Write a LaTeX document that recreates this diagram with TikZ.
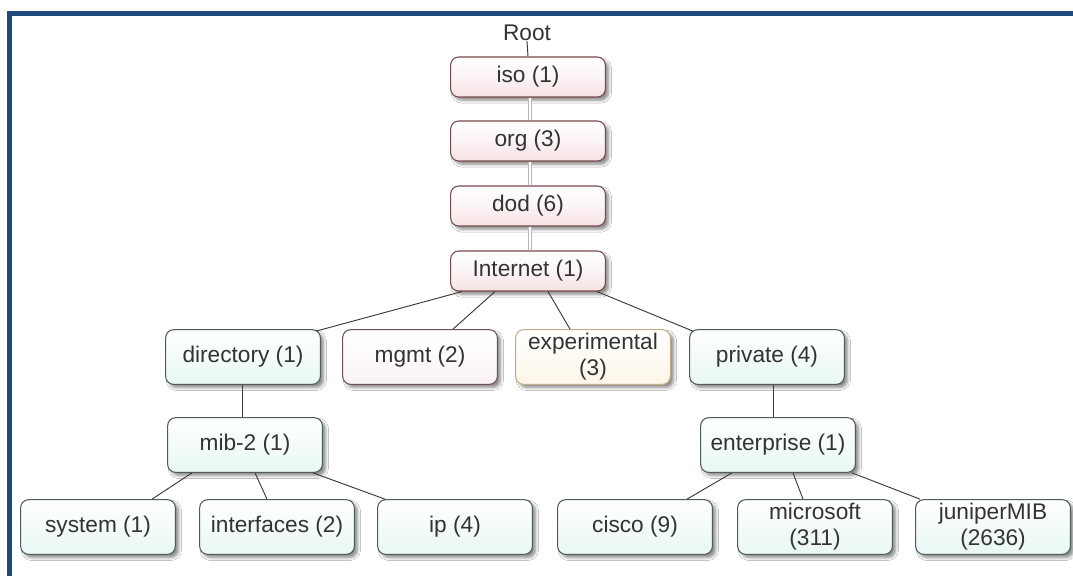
\documentclass[tikz,border=0pt]{standalone}
\usepackage{fontspec}
\setmainfont{Liberation Sans}
\usetikzlibrary{calc,shadows.blur}

\definecolor{frameblue}{HTML}{1F4A7E}
\definecolor{textgray}{HTML}{333333}
\definecolor{linegray}{HTML}{3A3A3A}
\definecolor{chainedge}{HTML}{7A4B4E}
\definecolor{chainfill}{HTML}{F6E2E4}
\definecolor{tealedge}{HTML}{4F5C5C}
\definecolor{tealfill}{HTML}{E8F7F5}
\definecolor{mgmtedge}{HTML}{6E5456}
\definecolor{mgmtfill}{HTML}{FBF3F3}
\definecolor{expedge}{HTML}{C4AE8A}
\definecolor{expfill}{HTML}{FDF6E8}

\newcommand{\boxfont}{\fontsize{17}{19.5}\selectfont}

\tikzset{
  mibbox/.style={rounded corners=6pt, minimum width=116pt, inner sep=0pt,
    align=center, text=textgray, font=\boxfont, line width=0.8pt,
    blur shadow={shadow xshift=2.5pt, shadow yshift=-2.5pt,
      shadow blur steps=5, shadow opacity=45}},
  chainbox/.style={mibbox, minimum height=30pt, draw=chainedge,
    top color=white, bottom color=chainfill, middle color=white!60!chainfill},
  tealbox/.style={mibbox, minimum height=41pt, draw=tealedge,
    top color=white, bottom color=tealfill},
  mgmtbox/.style={mibbox, minimum height=41pt, draw=mgmtedge,
    top color=white, bottom color=mgmtfill},
  expbox/.style={mibbox, minimum height=41pt, draw=expedge,
    top color=white, bottom color=expfill},
  branch/.style={draw=linegray, line width=0.7pt},
  chainlink/.style={draw=gray!55, double=white, double distance=2.2pt, line width=0.5pt}
}

\begin{document}
\begin{tikzpicture}[x=0.75pt,y=-0.75pt]
  \useasboundingbox (0,0) rectangle (1073,576);
  \fill[white] (0,0) rectangle (1073,576);

  % page frame (top and left edges)
  \fill[frameblue] (7,11) rectangle (1073,16);
  \fill[frameblue] (7,11) rectangle (12,576);

  % root label and the iso/org/dod/internet chain
  \node[text=textgray, font=\boxfont, inner sep=0pt] (root) at (527,33) {Root};
  \node[chainbox] (iso) at (528,77)  {iso (1)};
  \node[chainbox] (org) at (528,141) {org (3)};
  \node[chainbox] (dod) at (528,206) {dod (6)};
  \node[chainbox] (inet) at (528,271) {Internet (1)};

  % second level
  \node[tealbox] (dir)  at (243,357) {directory (1)};
  \node[mgmtbox] (mgmt) at (420,357) {mgmt (2)};
  \node[expbox]  (exp)  at (593,357) {experimental\\(3)};
  \node[tealbox] (priv) at (767,357) {private (4)};

  % third level
  \node[tealbox] (mib) at (245,445) {mib-2 (1)};
  \node[tealbox] (ent) at (778,445) {enterprise (1)};

  % leaves
  \node[tealbox] (sys)   at (98,527)  {system (1)};
  \node[tealbox] (ifs)   at (277,527) {interfaces (2)};
  \node[tealbox] (ip)    at (455,527) {ip (4)};
  \node[tealbox] (cisco) at (635,527) {cisco (9)};
  \node[tealbox] (ms)    at (815,527) {microsoft\\(311)};
  \node[tealbox] (jun)   at (993,527) {juniperMIB\\(2636)};

  % connectors
  \draw[branch] (root.south) -- (iso.north);
  \draw[chainlink] ($(iso.south)+(2,0)$) -- ($(org.north)+(2,0)$);
  \draw[chainlink] ($(org.south)+(2,0)$) -- ($(dod.north)+(2,0)$);
  \draw[chainlink] ($(dod.south)+(2,0)$) -- ($(inet.north)+(2,0)$);

  \draw[branch] ($(inet.south)+(-66,0)$) -- ($(dir.north)+(73,2)$);
  \draw[branch] ($(inet.south)+(-33,0)$) -- ($(mgmt.north)+(33,0)$);
  \draw[branch] ($(inet.south)+(20,0)$)  -- ($(exp.north)+(-23,0)$);
  \draw[branch] ($(inet.south)+(69,0)$)  -- ($(priv.north)+(-74,2)$);

  \draw[branch] ($(dir.south)+(-1,0)$) -- ($(mib.north)+(-3,0)$);
  \draw[branch] ($(mib.south)+(-53,0)$) -- ($(sys.north)+(54,0)$);
  \draw[branch] ($(mib.south)+(10,0)$)  -- ($(ifs.north)+(-10,0)$);
  \draw[branch] ($(mib.south)+(68,0)$)  -- ($(ip.north)+(-70,0)$);

  \draw[branch] ($(priv.south)+(6,0)$) -- ($(ent.north)+(-5,0)$);
  \draw[branch] ($(ent.south)+(-46,0)$) -- ($(cisco.north)+(52,0)$);
  \draw[branch] ($(ent.south)+(15,0)$)  -- ($(ms.north)+(-12,0)$);
  \draw[branch] ($(ent.south)+(74,0)$)  -- ($(jun.north)+(-73,0)$);
\end{tikzpicture}
\end{document}
